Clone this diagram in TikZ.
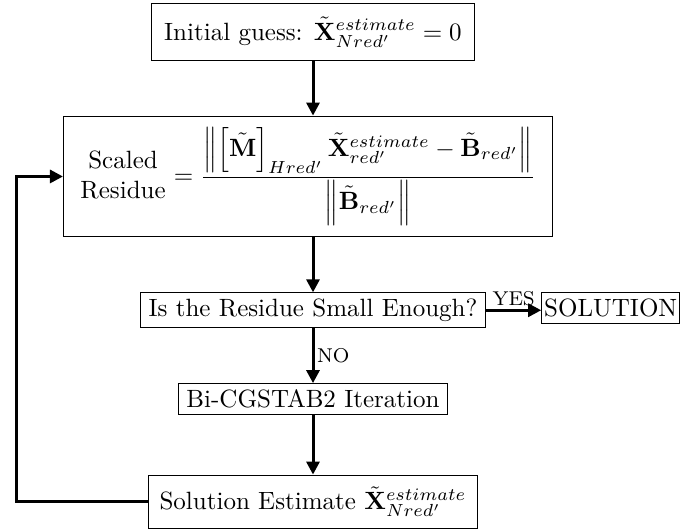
\documentclass[tikz,border=0pt]{standalone}
\usepackage{amsmath}
\usepackage{tikz}
\usetikzlibrary{arrows.meta, positioning}
\tikzset{block/.style={draw, line width=0.4pt, inner xsep=3.33pt, inner ysep=2.4pt}}
\tikzset{flow/.style={line width=1.2pt, -{Triangle[length=5.2pt,width=5.2pt]}}}
\newcommand{\Xest}[1]{\tilde{\mathbf{X}}^{estimate}_{#1}}

\begin{document}
\begin{tikzpicture}[x=0.4pt, y=-0.4pt, node distance=22pt]
\useasboundingbox (0,0) rectangle (693,529);
\node[block, inner sep=5.2pt] (init) at (313,32) {Initial guess: $\Xest{Nred'}=0$};
\node[block, inner xsep=6.8pt, inner ysep=4.5pt, below=of init, xshift=-2pt] (res) {\begin{tabular}{@{}c@{}}Scaled\\Residue\end{tabular}
  $=\dfrac{\left\|\left[\tilde{\mathbf{M}}\right]_{Hred'}\Xest{red'}-\tilde{\mathbf{B}}_{red'}\right\|}{\left\|\tilde{\mathbf{B}}_{red'}\right\|}$};
\node[block, below=of init.south |- res.south] (check) {Is the Residue Small Enough?};
\node[block, inner xsep=1pt, right=22pt of check.north east, anchor=north west] (sol) {SOLUTION};
\node[block, below=of check] (iter) {Bi-CGSTAB2 Iteration};
\node[block, inner sep=4.6pt, below=24pt of iter] (est) {Solution Estimate $\Xest{Nred'}$};
\coordinate[left=18.4pt of res.west] (back);

\draw[flow] (init) -- (init |- res.north);
\draw[flow] (init |- res.south) -- (check);
\draw[flow] (check.east) -- node[above, inner sep=1pt]{\footnotesize YES} (check.east -| sol.west);
\draw[flow] (check) -- node[right, inner sep=1pt]{\footnotesize NO} (iter);
\draw[flow] (iter) -- (est);
\draw[flow] (est.west) -| (back) -- (res.west);
\end{tikzpicture}
\end{document}
